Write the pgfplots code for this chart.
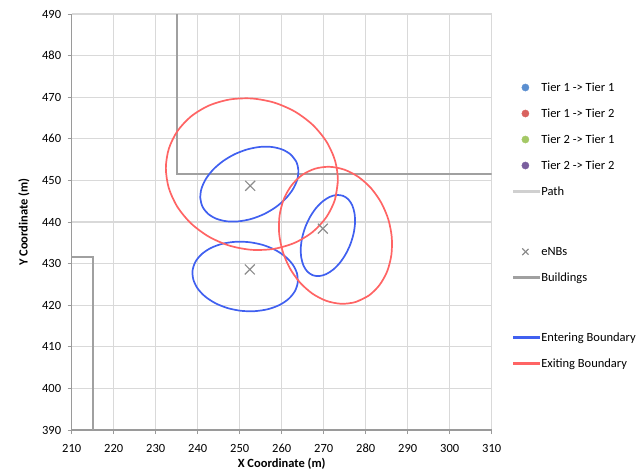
\documentclass[border=0pt]{standalone}
\usepackage{fontspec}
\setmainfont{Carlito}
\usepackage{pgfplots}
\pgfplotsset{compat=1.18}
\definecolor{gridc}{HTML}{D9D9D9}
\definecolor{axc}{HTML}{9A9A9A}
\definecolor{bldc}{HTML}{A0A0A0}
\definecolor{pathc}{HTML}{D0D0D0}
\definecolor{entc}{HTML}{4060F0}
\definecolor{exic}{HTML}{FF6464}
\definecolor{enbc}{HTML}{8C8C8C}
\definecolor{tA}{HTML}{5B8FD0}
\definecolor{tB}{HTML}{D9625F}
\definecolor{tC}{HTML}{A4C865}
\definecolor{tD}{HTML}{7A5F9E}
\newcommand{\fs}{\fontsize{12.5}{15}\selectfont}
\pgfplotsset{
  legcirc/.style={legend image code/.code={\fill[#1] (12.3pt,0pt) circle[radius=3.6pt];}},
  legx/.style={legend image code/.code={%
    \fill[#1] (9.1pt,-3.2pt) -- (9.6pt,-3.7pt) -- (15.5pt,2.2pt)-- (15.0pt,2.7pt) -- cycle;
    \fill[#1] (9.1pt,2.7pt) -- (9.6pt,3.2pt) -- (15.5pt,-2.7pt)-- (15.0pt,-3.2pt) -- cycle;}},
  legline/.style={legend image code/.code={\fill[#1] (0pt,-0.85pt) rectangle (25.6pt,0.85pt);}},
  blankleg/.style={legend image code/.code={\path[draw=none, fill=none] (0pt,-9pt) rectangle (1pt,9pt);}},
}
\begin{document}
\begin{tikzpicture}
\begin{axis}[
  scale only axis, width=420pt, height=416pt,
  xmin=210, xmax=310, ymin=390, ymax=490,
  xtick={210,220,...,310}, ytick={390,400,...,490},
  axis x line*=bottom, axis y line*=left,
  axis line style={axc, line width=1.3pt},
  grid=major, major grid style={gridc, line width=1.3pt},
  tick align=outside, major tick length=4pt,
  tick style={axc, line width=1pt},
  /pgf/number format/assume math mode=true,
  /pgf/number format/1000 sep={},
  tick label style={font=\fs, black},
  yticklabel style={xshift=-3pt},
  xticklabel style={yshift=-6.5pt},
  xlabel={X Coordinate (m)}, ylabel={Y Coordinate (m)},
  label style={font=\bfseries\fs},
  x label style={at={(axis description cs:0.5,-0.0817)}, anchor=center},
  y label style={at={(axis description cs:-0.1136,0.5)}, anchor=center, rotate=0},
  clip=true,
  legend cell align=left,
  legend style={draw=none, fill=none, font=\fs, inner sep=0pt,
    at={(axis description cs:1.05,0.8358)}, anchor=north west,
    row sep=16pt,
    nodes={inner xsep=2.4pt, inner ysep=0pt, text height=8.5pt, text depth=1.5pt}},
]
% buildings
\addplot[forget plot, bldc, line width=1.8pt] coordinates {(205,431.5) (215,431.5) (215,390)};
\addplot[forget plot, bldc, line width=1.8pt] coordinates {(235,492) (235,451.5) (312,451.5)};
% entering boundaries
\addplot[forget plot, entc, line width=1.7pt, smooth] coordinates {
(263.45,454.54) (262.16,456.21) (260.20,457.40) (257.70,458.03) (254.84,458.05) (251.80,457.45) (248.79,456.29) (246.03,454.64) (243.69,452.61) (241.94,450.34) (240.89,447.99) (240.63,445.71) (241.16,443.66) (242.44,441.99) (244.40,440.80) (246.90,440.17) (249.76,440.16) (252.80,440.75) (255.81,441.91) (258.57,443.56) (260.91,445.59) (262.66,447.86) (263.71,450.21) (263.97,452.49) (263.45,454.54) (262.16,456.21)};
\addplot[forget plot, entc, line width=1.7pt, smooth] coordinates {
(263.82,425.47) (263.64,427.66) (262.61,429.79) (260.82,431.72) (258.37,433.33) (255.45,434.50) (252.24,435.15) (248.97,435.24) (245.85,434.76) (243.11,433.74) (240.93,432.26) (239.45,430.41) (238.78,428.33) (238.97,426.14) (239.99,424.01) (241.78,422.08) (244.23,420.47) (247.15,419.30) (250.36,418.65) (253.63,418.57) (256.75,419.05) (259.49,420.06) (261.67,421.54) (263.15,423.39) (263.82,425.47) (263.64,427.66)};
\addplot[forget plot, entc, line width=1.7pt, smooth] coordinates {
(274.59,446.30) (273.07,446.50) (271.42,446.03) (269.73,444.93) (268.13,443.28) (266.73,441.18) (265.62,438.77) (264.87,436.23) (264.54,433.73) (264.66,431.43) (265.20,429.49) (266.14,428.05) (267.41,427.20) (268.93,427.00) (270.59,427.47) (272.27,428.57) (273.87,430.22) (275.27,432.33) (276.38,434.73) (277.13,437.27) (277.46,439.77) (277.34,442.07) (276.80,444.01) (275.86,445.45) (274.59,446.30) (273.07,446.50)};
% exiting boundaries
\addplot[forget plot, exic, line width=1.7pt, smooth] coordinates {
(272.68,445.38) (273.38,450.04) (272.69,454.80) (270.65,459.33) (267.40,463.33) (263.16,466.53) (258.22,468.70) (252.92,469.69) (247.62,469.45) (242.68,467.99) (238.44,465.40) (235.18,461.86) (233.13,457.62) (232.42,452.96) (233.11,448.20) (235.15,443.67) (238.40,439.67) (242.64,436.48) (247.58,434.31) (252.88,433.31) (258.18,433.55) (263.12,435.01) (267.36,437.60) (270.62,441.14) (272.68,445.38) (273.38,450.04)};
\addplot[forget plot, exic, line width=1.7pt, smooth] coordinates {
(277.61,420.77) (280.71,422.29) (283.26,424.81) (285.11,428.13) (286.11,432.06) (286.21,436.30) (285.40,440.58) (283.72,444.60) (281.30,448.09) (278.30,450.81) (274.93,452.58) (271.41,453.27) (267.99,452.83) (264.89,451.31) (262.34,448.80) (260.49,445.47) (259.49,441.54) (259.39,437.30) (260.21,433.02) (261.88,429.00) (264.30,425.51) (267.30,422.79) (270.67,421.03) (274.19,420.34) (277.61,420.77) (280.71,422.29)};
% eNBs
\addplot[forget plot, only marks, mark=x, mark size=7pt, mark options={enbc, line width=1.2pt}] coordinates {(252.5,448.7) (252.4,428.6) (269.8,438.4)};
% legend
\addlegendimage{legcirc=tA}
\addlegendentry{Tier 1 -> Tier 1}
\addlegendimage{legcirc=tB}
\addlegendentry{Tier 1 -> Tier 2}
\addlegendimage{legcirc=tC}
\addlegendentry{Tier 2 -> Tier 1}
\addlegendimage{legcirc=tD}
\addlegendentry{Tier 2 -> Tier 2}
\addlegendimage{legline=pathc}
\addlegendentry{Path}
\addlegendimage{blankleg}
\addlegendentry{}
\addlegendimage{legx=enbc}
\addlegendentry{eNBs}
\addlegendimage{legline=bldc}
\addlegendentry{Buildings}
\addlegendimage{blankleg}
\addlegendentry{}
\addlegendimage{legline=entc}
\addlegendentry{Entering Boundary}
\addlegendimage{legline=exic}
\addlegendentry{Exiting Boundary}
\end{axis}
\pgfresetboundingbox
\path[use as bounding box] (current axis.south west) ++(-71.7pt,-45pt) rectangle ++(641pt,475pt);
\end{tikzpicture}
\end{document}
